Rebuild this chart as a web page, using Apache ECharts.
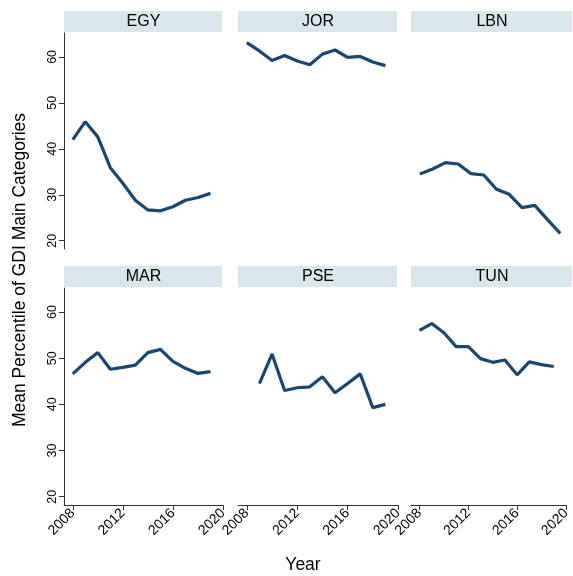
<!DOCTYPE html>
<html><head><meta charset="utf-8">
<script src="https://cdn.jsdelivr.net/npm/echarts@6/dist/echarts.min.js"></script>
<style>html,body{margin:0;padding:0;background:#fff}#c{width:573px;height:576px}</style>
</head><body><div id="c"></div>
<script>
const years = [2008,2009,2010,2011,2012,2013,2014,2015,2016,2017,2018,2019];
const countries = ["EGY","JOR","LBN","MAR","PSE","TUN"];
const EGY = [42.0,45.9,42.6,35.9,32.5,28.8,26.7,26.5,27.4,28.8,29.4,30.3];
const JOR = [63.1,61.3,59.2,60.3,59.1,58.3,60.6,61.5,59.9,60.1,58.9,58.1];
const LBN = [34.5,35.6,37.0,36.7,34.6,34.3,31.2,30.1,27.2,27.7,24.6,21.6];
const MAR = [46.6,49.1,51.2,47.6,48.0,48.5,51.2,51.9,49.3,47.8,46.7,47.1];
const PSE = [null,44.5,50.9,43.0,43.6,43.8,46.0,42.5,44.5,46.6,39.3,40.0];
const TUN = [56.0,57.5,55.5,52.5,52.5,49.9,49.1,49.6,46.4,49.2,48.6,48.2];
const yTicks = [20,30,40,50,60];
const xTicks = [2008,2012,2016,2020];
const seriesData = {EGY, JOR, LBN, MAR, PSE, TUN};

const lefts = [64, 238, 411];
const widths = [159, 160, 162];
const tops = [33, 288];
const heights = [216, 217];
const stripH = 21;
const FONT = "Liberation Sans";

const grid = [], xAxis = [], yAxis = [], series = [], graphic = [];
countries.forEach((c, i) => {
  const col = i % 3, row = Math.floor(i / 3);
  grid.push({left: lefts[col], top: tops[row], width: widths[col], height: heights[row]});
  const showX = row === 1, showY = col === 0;
  xAxis.push({
    type: 'value', gridIndex: i, min: 2007.3, max: 2020,
    splitLine: {show: false},
    axisLine: {show: showX, lineStyle: {color: '#333', width: 1}},
    axisTick: {show: showX, length: 5, customValues: xTicks, lineStyle: {color: '#333'}},
    axisLabel: {show: showX, customValues: xTicks, rotate: 45, fontSize: 14, color: '#000', fontFamily: FONT, margin: 6, formatter: v => String(v)}
  });
  yAxis.push({
    type: 'value', gridIndex: i, min: 18.2, max: 65.2,
    splitLine: {show: false},
    axisLine: {show: showY, lineStyle: {color: '#333', width: 1}},
    axisTick: {show: showY, length: 5, customValues: yTicks, lineStyle: {color: '#333'}},
    axisLabel: {show: showY, customValues: yTicks, rotate: 90, fontSize: 12.5, color: '#000', fontFamily: FONT, margin: 5}
  });
  series.push({
    type: 'line', xAxisIndex: i, yAxisIndex: i, showSymbol: false, symbol: 'none',
    lineStyle: {color: '#1a476f', width: 3.2}, connectNulls: false,
    data: years.map((y, k) => [y, seriesData[c][k]])
  });
  graphic.push({
    type: 'rect', left: lefts[col], top: tops[row] - stripH - 1,
    shape: {width: widths[col] - 1, height: stripH},
    style: {fill: '#d9e6eb'}
  });
  graphic.push({
    type: 'text', x: lefts[col] + widths[col] / 2, y: tops[row] - stripH / 2 - 1,
    style: {text: c, fontSize: 16, fontFamily: FONT, fill: '#000', align: 'center', verticalAlign: 'middle'}
  });
});
graphic.push({
  type: 'text', x: 20, y: 270, rotation: Math.PI / 2,
  style: {text: 'Mean Percentile of GDI Main Categories', fontSize: 17.5, fontFamily: FONT, fill: '#000', align: 'center', verticalAlign: 'middle'}
});
graphic.push({
  type: 'text', x: 303, y: 565,
  style: {text: 'Year', fontSize: 17.5, fontFamily: FONT, fill: '#000', align: 'center', verticalAlign: 'middle'}
});

const chart = echarts.init(document.getElementById('c'), null, {renderer: 'canvas'});
chart.setOption({animation: false, backgroundColor: '#fff', grid, xAxis, yAxis, series, graphic});
</script></body></html>
